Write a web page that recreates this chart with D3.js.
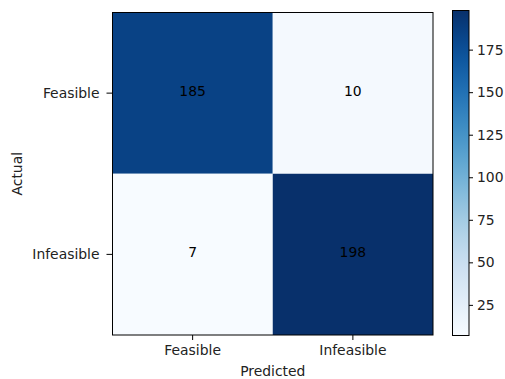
<!DOCTYPE html>
<html>
<head>
<meta charset="utf-8">
<script src="https://cdn.jsdelivr.net/npm/d3@7"></script>
<style>
  html, body { margin: 0; padding: 0; background: #fff; }
  svg { display: block; font-family: "DejaVu Sans", sans-serif; }
</style>
</head>
<body>
<svg id="chart" width="505" height="379"></svg>
<script>
// Confusion matrix: rows = actual class, columns = predicted class
const classes = ["Feasible", "Infeasible"];
const counts = [
  [185, 10],
  [7, 198]
];
const colorbarTicks = [25, 50, 75, 100, 125, 150, 175];

const FS = 13.9;
const svg = d3.select("#chart");
const plot = { left: 112.5, top: 12.5, right: 433, bottom: 335 };
const bar = { left: 452.5, top: 10.5, right: 469, bottom: 335.5 };

const flat = counts.flat();
const vmin = d3.min(flat), vmax = d3.max(flat);
const color = d3.scaleSequential(d3.interpolateBlues).domain([vmin, vmax]);

const x = d3.scaleBand().domain(classes).range([plot.left, plot.right]);
const y = d3.scaleBand().domain(classes).range([plot.top, plot.bottom]);

const cells = [];
counts.forEach((row, i) => row.forEach((v, j) => cells.push({ actual: classes[i], predicted: classes[j], v })));

svg.append("g").selectAll("rect").data(cells).join("rect")
  .attr("x", d => x(d.predicted))
  .attr("y", d => y(d.actual))
  .attr("width", x.bandwidth())
  .attr("height", y.bandwidth())
  .attr("fill", d => color(d.v));

svg.append("g").selectAll("text").data(cells).join("text")
  .attr("x", d => x(d.predicted) + x.bandwidth() / 2)
  .attr("y", d => y(d.actual) + y.bandwidth() / 2 - 2)
  .attr("text-anchor", "middle")
  .attr("dominant-baseline", "central")
  .attr("font-size", FS)
  .attr("fill", "#000")
  .text(d => d.v);

svg.append("rect")
  .attr("x", plot.left).attr("y", plot.top)
  .attr("width", plot.right - plot.left).attr("height", plot.bottom - plot.top)
  .attr("fill", "none").attr("stroke", "#000").attr("stroke-width", 1);

function styleAxis(g) {
  g.select(".domain").remove();
  g.selectAll(".tick line").attr("stroke", "#000").attr("stroke-width", 1);
  g.selectAll(".tick text").attr("font-size", FS).attr("fill", "#222")
    .attr("font-family", "DejaVu Sans, sans-serif");
}

svg.append("g")
  .attr("transform", `translate(0,${plot.bottom})`)
  .call(d3.axisBottom(x).tickSize(5).tickPadding(5))
  .call(styleAxis);

svg.append("g")
  .attr("transform", `translate(${plot.left},0)`)
  .call(d3.axisLeft(y).tickSize(6).tickPadding(7))
  .call(styleAxis);

svg.append("text")
  .attr("x", (plot.left + plot.right) / 2)
  .attr("y", 376)
  .attr("text-anchor", "middle")
  .attr("font-size", FS).attr("fill", "#222")
  .text("Predicted");

svg.append("text")
  .attr("transform", `translate(22,${(plot.top + plot.bottom) / 2}) rotate(-90)`)
  .attr("text-anchor", "middle")
  .attr("font-size", FS).attr("fill", "#222")
  .text("Actual");

// Colorbar
const cb = d3.scaleLinear().domain([vmin, vmax]).range([bar.bottom, bar.top]);
const defs = svg.append("defs");
const grad = defs.append("linearGradient").attr("id", "cbgrad")
  .attr("x1", 0).attr("y1", 1).attr("x2", 0).attr("y2", 0);
d3.range(0, 1.0001, 0.05).forEach(t => {
  grad.append("stop").attr("offset", t).attr("stop-color", d3.interpolateBlues(t));
});
svg.append("rect")
  .attr("x", bar.left).attr("y", bar.top)
  .attr("width", bar.right - bar.left).attr("height", bar.bottom - bar.top)
  .attr("fill", "url(#cbgrad)")
  .attr("stroke", "#000").attr("stroke-width", 1);

svg.append("g")
  .attr("transform", `translate(${bar.right},0)`)
  .call(d3.axisRight(cb).tickValues(colorbarTicks).tickSize(4).tickPadding(4))
  .call(styleAxis);
</script>
</body>
</html>
